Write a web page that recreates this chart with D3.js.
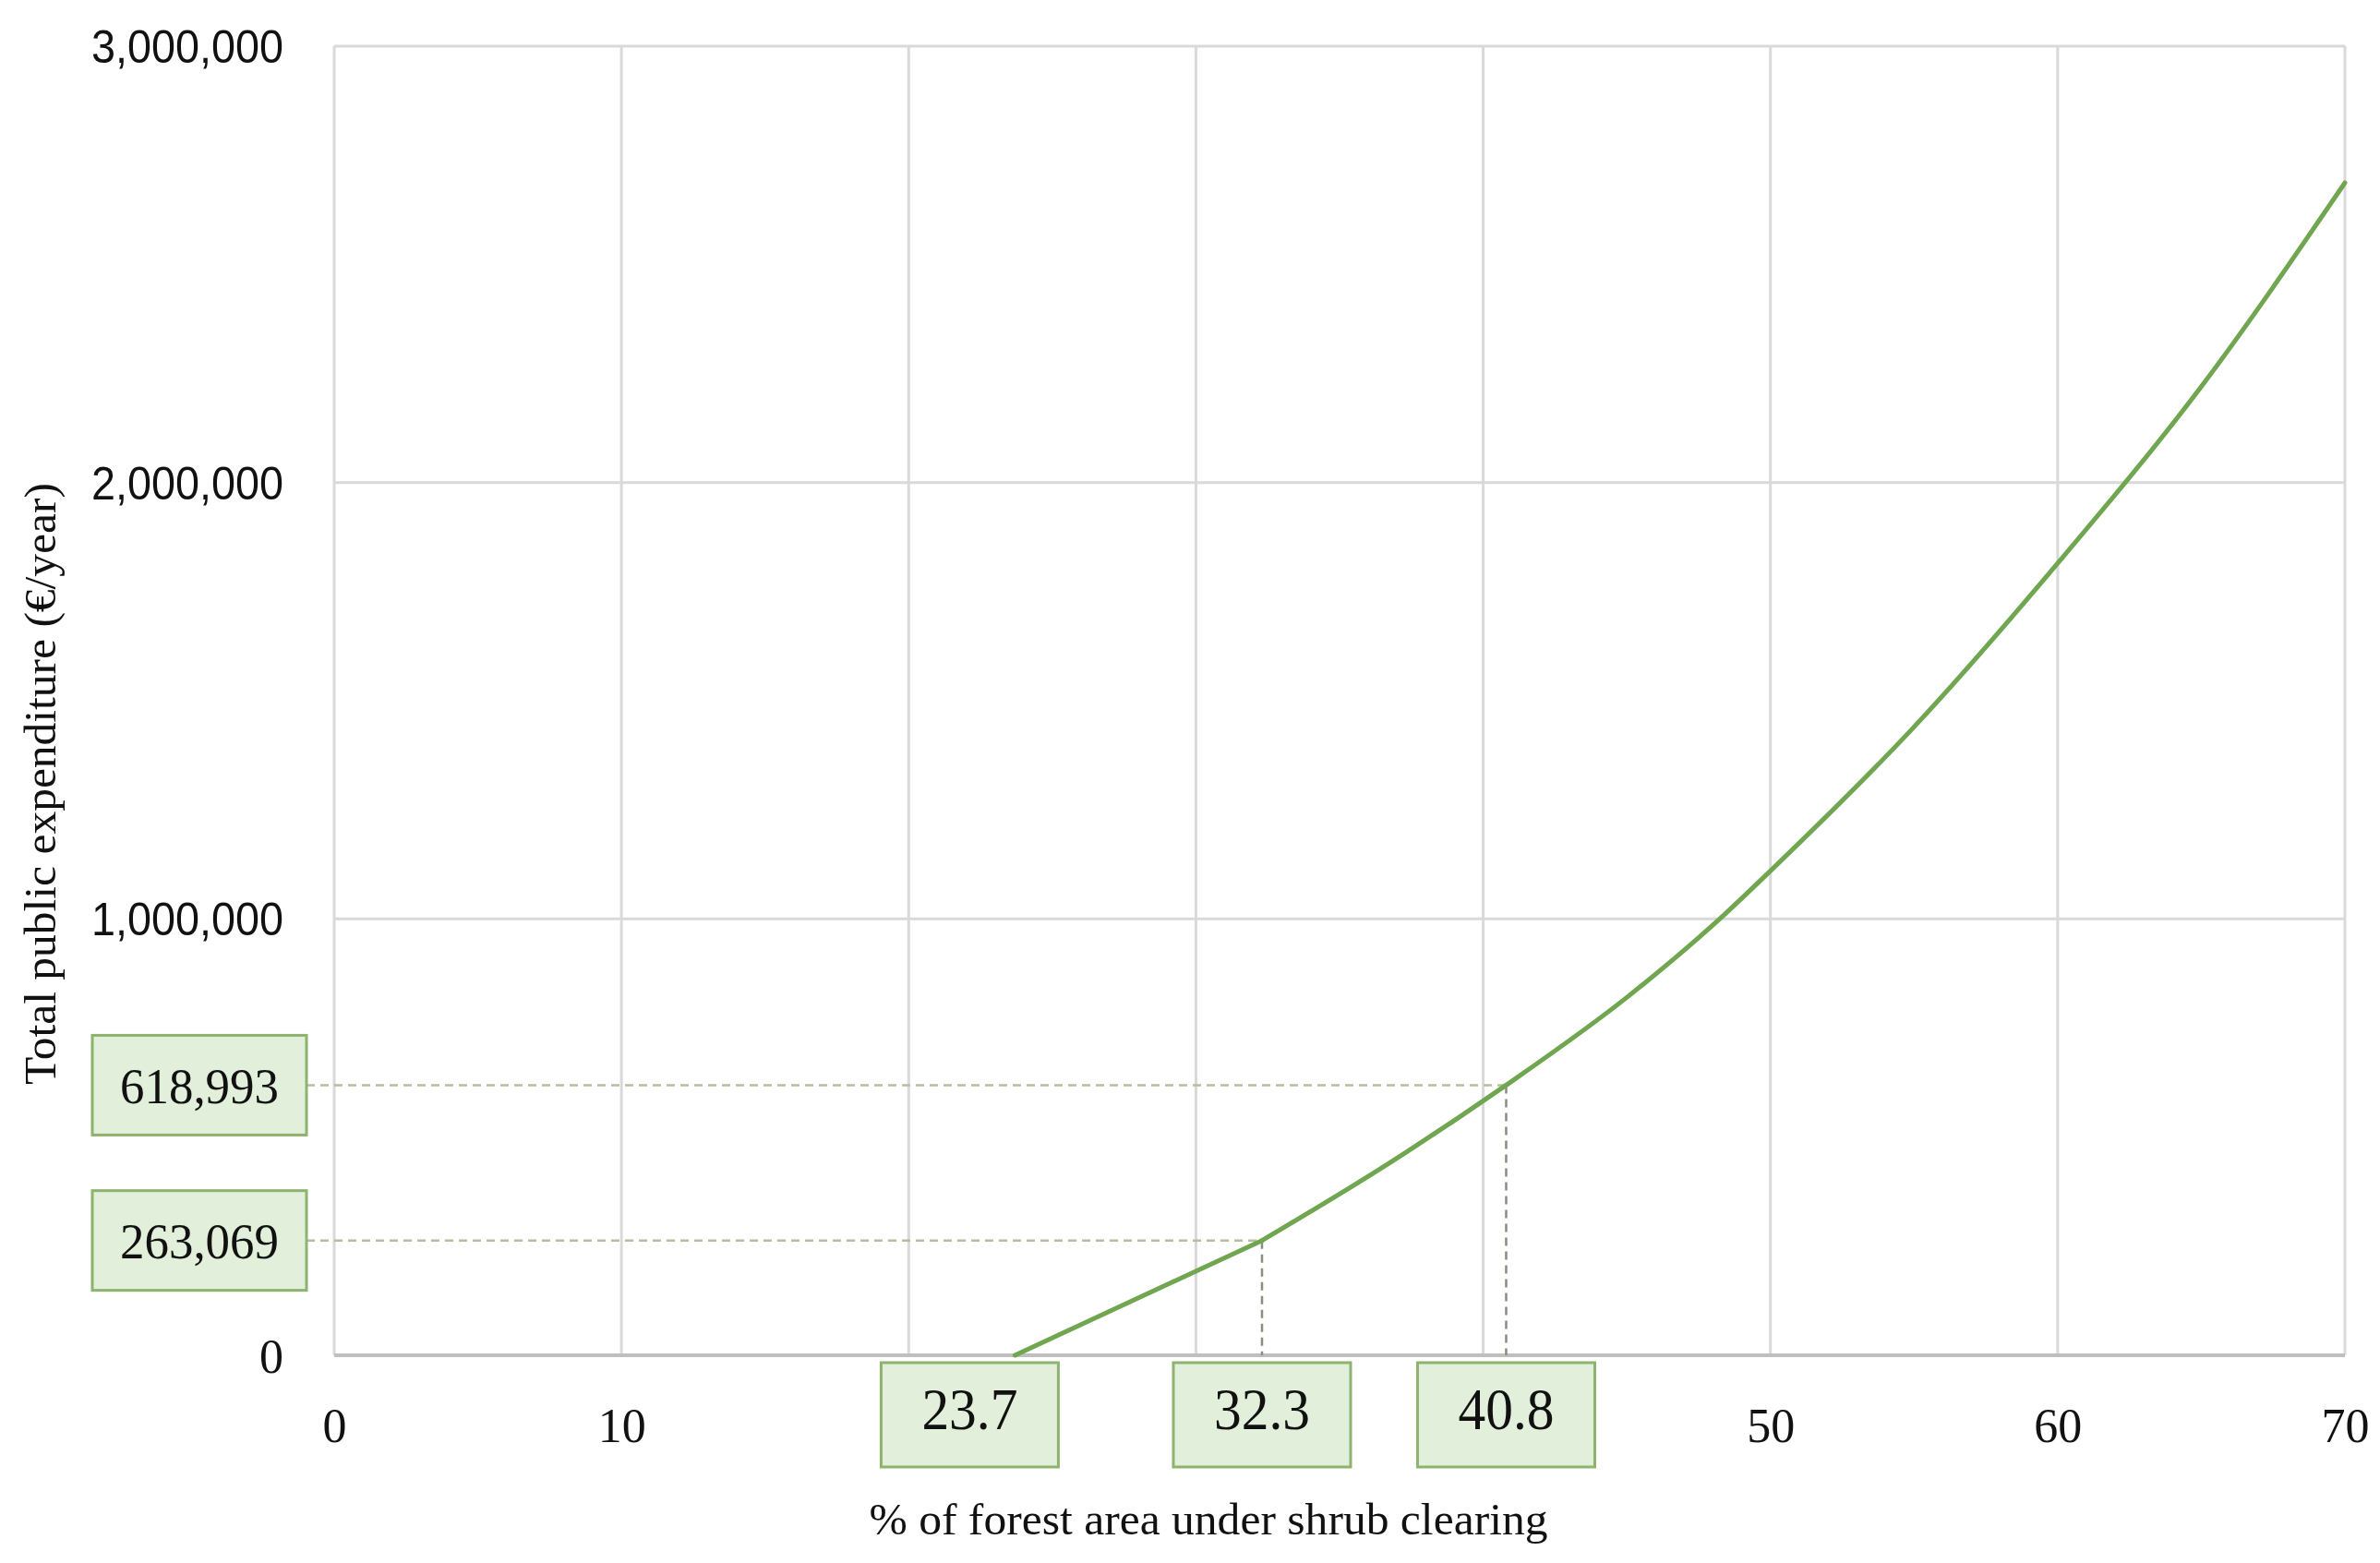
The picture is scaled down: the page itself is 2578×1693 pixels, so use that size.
<!DOCTYPE html>
<html>
<head>
<meta charset="utf-8">
<script src="https://cdn.jsdelivr.net/npm/d3@7"></script>
<style>
  body { margin: 0; background: #fff; }
  svg { display: block; }
</style>
</head>
<body>
<script>
// curve: % of forest area vs €/year
var shrubPct    = [23.7, 32.3, 36, 40.8, 45, 48.4, 50, 55, 60, 65, 70];
var expenditure = [0, 263069, 410000, 618993, 820000, 1010000, 1110000, 1440000, 1815000, 2220000, 2687000];

var xTicks = [0, 10, 20, 30, 40, 50, 60, 70];
var xTickLabels = [0, 10, 50, 60, 70]; // 20, 30, 40 sit behind the boxes
var yTicks = [0, 1000000, 2000000, 3000000];

// highlighted thresholds
var markPct   = [23.7, 32.3, 40.8];
var markValue = [263069, 618993];
var markPctLabel   = ['23.7', '32.3', '40.8'];
var markValueLabel = ['263,069', '618,993'];

var xTitle = '% of forest area under shrub clearing';
var yTitle = 'Total public expenditure (€/year)';

var W = 2578, H = 1693;
var plotL = 362, plotR = 2540, plotT = 50, plotB = 1468;
var green = '#70a650';
var serif = '"Liberation Serif", "DejaVu Serif", serif';
var sans  = '"Liberation Sans", Arial, sans-serif';

var svg = d3.select('body').append('svg').attr('width', W).attr('height', H);
svg.append('rect').attr('width', W).attr('height', H).attr('fill', '#fff');

var x = d3.scaleLinear().domain([0, 70]).range([plotL, plotR]);
var y = d3.scaleLinear().domain([0, 3000000]).range([plotB, plotT]);

// grid
svg.append('g').selectAll('line').data(xTicks).enter().append('line')
    .attr('x1', function(d){ return x(d); }).attr('x2', function(d){ return x(d); })
    .attr('y1', plotT).attr('y2', plotB)
    .attr('stroke', '#d9d9d9').attr('stroke-width', 3);
svg.append('g').selectAll('line').data(yTicks.slice(1)).enter().append('line')
    .attr('x1', plotL).attr('x2', plotR)
    .attr('y1', function(d){ return y(d); }).attr('y2', function(d){ return y(d); })
    .attr('stroke', '#d9d9d9').attr('stroke-width', 3);
// bottom axis line
svg.append('line').attr('x1', plotL).attr('x2', plotR).attr('y1', plotB).attr('y2', plotB)
    .attr('stroke', '#bfbfbf').attr('stroke-width', 4);

// x axis tick labels
var xAxis = d3.axisBottom(x).tickValues(xTickLabels).tickSize(0).tickPadding(0).tickFormat(d3.format('d'));
var gx = svg.append('g').attr('transform', 'translate(0,' + (plotB + 94) + ')').call(xAxis);
gx.select('.domain').remove();
gx.selectAll('text').attr('font-family', serif).attr('font-size', 52).attr('fill', '#111').attr('dy', 0);

// y axis tick labels
var yAxis = d3.axisLeft(y).tickValues(yTicks).tickSize(0).tickPadding(0).tickFormat(d3.format(','));
var gy = svg.append('g').attr('transform', 'translate(' + (plotL - 55) + ',0)').call(yAxis);
gy.select('.domain').remove();
gy.selectAll('text')
    .attr('font-family', function(d){ return d === 0 ? serif : sans; })
    .attr('font-size', function(d){ return d === 0 ? 52 : 50; })
    .attr('fill', '#111')
    .attr('dy', '0.35em')
    .attr('textLength', function(d){ return d === 0 ? null : 208; })
    .attr('lengthAdjust', 'spacingAndGlyphs');

// guide lines from the labelled points
var guides = markValue.map(function(v, i){ return { px: markPct[i + 1], v: v }; });
var boxRight = 332;
svg.append('g').selectAll('line').data(guides).enter().append('line')
    .attr('x1', boxRight).attr('x2', function(d){ return x(d.px); })
    .attr('y1', function(d){ return y(d.v); }).attr('y2', function(d){ return y(d.v); })
    .attr('stroke', '#b3bf9f').attr('stroke-width', 2.5).attr('stroke-dasharray', '9,6');
svg.append('g').selectAll('line').data(guides).enter().append('line')
    .attr('x1', function(d){ return x(d.px); }).attr('x2', function(d){ return x(d.px); })
    .attr('y1', function(d){ return y(d.v); }).attr('y2', plotB)
    .attr('stroke', '#8c8c80').attr('stroke-width', 2.5).attr('stroke-dasharray', '9,6');

// the curve: straight first stretch, then smooth
var pts = shrubPct.map(function(p, i){ return [p, expenditure[i]]; });
var straight = d3.line().x(function(d){ return x(d[0]); }).y(function(d){ return y(d[1]); });
var smooth = d3.line().x(function(d){ return x(d[0]); }).y(function(d){ return y(d[1]); }).curve(d3.curveMonotoneX);
svg.append('path').attr('d', straight(pts.slice(0, 2)))
    .attr('fill', 'none').attr('stroke', green).attr('stroke-width', 5).attr('stroke-linecap', 'round');
svg.append('path').attr('d', smooth(pts.slice(1)))
    .attr('fill', 'none').attr('stroke', green).attr('stroke-width', 5).attr('stroke-linecap', 'round');

// label boxes under the x axis
var boxFill = '#e2efda', boxStroke = '#8db36f';
var shiftX = [-49, 0, 0];
var bw = 192, bh = 113, btop = 1476;
var xb = svg.append('g').selectAll('g').data(markPct).enter().append('g')
    .attr('transform', function(d, i){ return 'translate(' + (x(d) + shiftX[i]) + ',' + btop + ')'; });
xb.append('rect').attr('x', -bw / 2).attr('y', 0).attr('width', bw).attr('height', bh)
    .attr('fill', boxFill).attr('stroke', boxStroke).attr('stroke-width', 3);
xb.append('text').attr('x', 0).attr('y', 72).attr('text-anchor', 'middle')
    .attr('font-family', serif).attr('font-size', 64).attr('fill', '#111')
    .attr('textLength', 104).attr('lengthAdjust', 'spacingAndGlyphs')
    .text(function(d, i){ return markPctLabel[i]; });

// label boxes left of the y axis
var yb = svg.append('g').selectAll('g').data(markValue).enter().append('g')
    .attr('transform', function(d){ return 'translate(100,' + (y(d) - 54) + ')'; });
yb.append('rect').attr('x', 0).attr('y', 0).attr('width', boxRight - 100).attr('height', 108)
    .attr('fill', boxFill).attr('stroke', boxStroke).attr('stroke-width', 3);
yb.append('text').attr('x', (boxRight - 100) / 2).attr('y', 54).attr('dy', '0.35em').attr('text-anchor', 'middle')
    .attr('font-family', serif).attr('font-size', 55).attr('fill', '#111')
    .attr('textLength', 172).attr('lengthAdjust', 'spacingAndGlyphs')
    .text(function(d, i){ return markValueLabel[i]; });

// axis titles
svg.append('text').attr('x', 1309).attr('y', 1662).attr('text-anchor', 'middle')
    .attr('font-family', serif).attr('font-size', 48).attr('fill', '#111')
    .attr('textLength', 735).attr('lengthAdjust', 'spacingAndGlyphs')
    .text(xTitle);
svg.append('text').attr('transform', 'translate(60,849) rotate(-90)').attr('text-anchor', 'middle')
    .attr('font-family', serif).attr('font-size', 48).attr('fill', '#111')
    .attr('textLength', 652).attr('lengthAdjust', 'spacingAndGlyphs')
    .text(yTitle);
</script>
</body>
</html>
